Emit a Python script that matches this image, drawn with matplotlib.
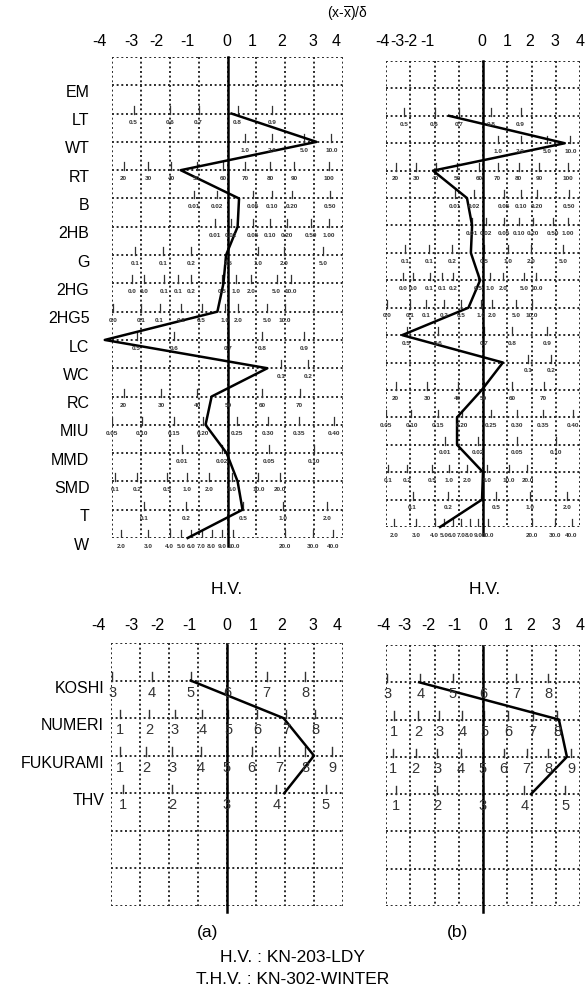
import numpy as np
import matplotlib
matplotlib.use('Agg')
import matplotlib.pyplot as plt
from matplotlib.transforms import blended_transform_factory

plt.rcParams['font.family'] = ['Liberation Sans', 'DejaVu Sans']

# rows of the upper charts
rows_top = ['EM', 'LT', 'WT', 'RT', 'B', '2HB', 'G', '2HG', '2HG5', 'LC',
            'WC', 'RC', 'MIU', 'MMD', 'SMD', 'T', 'W']

# profile values (x - mean)/sd
hv_a = [np.nan, 0.14, 3.08, -1.62, 0.40, 0.35, -0.05, -0.14, -0.35, -4.25,
        1.38, -0.55, -0.76, -0.03, 0.35, 0.52, -1.38]
hv_b = [np.nan, -1.40, 3.37, -2.06, -0.66, -0.45, -0.50, -0.12, -0.60, -3.33,
        0.82, -0.05, -1.07, -1.07, 0.00, -0.04, -1.77]

# scale labels of each row and where they sit on the sd axis
scale_lbl = {
    'EM': [],
    'LT': ['0.5', '0.6', '0.7', '0.8', '0.9'],
    'WT': ['1.0', '2.0', '5.0', '10.0'],
    'RT': ['20', '30', '40', '50', '60', '70', '80', '90', '100'],
    'B': ['0.01', '0.02', '0.05', '0.10', '0.20', '0.50'],
    '2HB': ['0.01', '0.02', '0.05', '0.10', '0.20', '0.50', '1.00'],
    'G': ['0.1', '0.1', '0.2', '0.5', '1.0', '2.0', '5.0'],
    '2HG': ['0.0', '0.0', '0.1', '0.1', '0.2', '0.5', '1.0', '2.0', '5.0', '10.0'],
    '2HG5': ['0.0', '0.1', '0.1', '0.2', '0.5', '1.0', '2.0', '5.0', '10.0'],
    'LC': ['0.5', '0.6', '0.7', '0.8', '0.9'],
    'WC': ['0.1', '0.2'],
    'RC': ['20', '30', '40', '50', '60', '70'],
    'MIU': ['0.05', '0.10', '0.15', '0.20', '0.25', '0.30', '0.35', '0.40'],
    'MMD': ['0.01', '0.02', '0.05', '0.10'],
    'SMD': ['0.1', '0.2', '0.5', '1.0', '2.0', '5.0', '10.0', '20.0'],
    'T': ['0.1', '0.2', '0.5', '1.0', '2.0'],
    'W': ['2.0', '3.0', '4.0', '5.0', '6.0', '7.0', '8.0', '9.0', '10.0',
          '20.0', '30.0', '40.0'],
}
scale_pos = {
    'EM': [],
    'LT': [-3.25, -2.0, -1.0, 0.35, 1.55],
    'WT': [0.6, 1.55, 2.65, 3.6],
    'RT': [-3.6, -2.75, -1.95, -1.07, -0.15, 0.6, 1.47, 2.32, 3.5],
    'B': [-1.17, -0.38, 0.88, 1.55, 2.23, 3.55],
    '2HB': [-0.45, 0.12, 0.88, 1.47, 2.05, 2.9, 3.5],
    'G': [-3.2, -2.23, -1.27, 0.03, 1.05, 1.97, 3.3],
    '2HG': [-3.3, -2.9, -2.2, -1.7, -1.25, -0.2, 0.28, 0.83, 1.7, 2.2],
    '2HG5': [-3.95, -3.0, -2.35, -1.6, -0.9, -0.1, 0.38, 1.38, 2.0],
    'LC': [-3.15, -1.85, 0.03, 1.2, 2.65],
    'WC': [1.85, 2.8],
    'RC': [-3.6, -2.3, -1.05, 0.03, 1.2, 2.5],
    'MIU': [-4.0, -2.95, -1.87, -0.86, 0.33, 1.4, 2.48, 3.7],
    'MMD': [-1.58, -0.2, 1.42, 3.0],
    'SMD': [-3.9, -3.12, -2.1, -1.4, -0.65, 0.17, 1.07, 1.83],
    'T': [-2.9, -1.45, 0.55, 1.92, 3.45],
    'W': [-3.68, -2.75, -2.0, -1.6, -1.25, -0.9, -0.55, -0.2, 0.2, 2.0, 2.95, 3.65],
}

# rows of the lower charts (hand values)
rows_bot = ['KOSHI', 'NUMERI', 'FUKURAMI', 'THV']
thv_a = [-1.25, 1.95, 3.0, 1.97]
thv_b = [-2.63, 3.13, 3.46, 1.98]
bot_lbl = {
    'KOSHI': ['3', '4', '5', '6', '7', '8'],
    'NUMERI': ['1', '2', '3', '4', '5', '6', '7', '8'],
    'FUKURAMI': ['1', '2', '3', '4', '5', '6', '7', '8', '9'],
    'THV': ['1', '2', '3', '4', '5'],
}
bot_pos = {
    'KOSHI': [-3.95, -2.58, -1.25, 0.0, 1.37, 2.7],
    'NUMERI': [-3.68, -2.68, -1.8, -0.85, 0.05, 1.03, 2.05, 3.05],
    'FUKURAMI': [-3.7, -2.78, -1.88, -0.9, 0.0, 0.85, 1.8, 2.7, 3.63],
    'THV': [-3.6, -1.88, 0.0, 1.7, 3.4],
}

# sd tick labels (the printed numbers are not quite on the grid lines)
sd_lbl = ['-4', '-3', '-2', '-1', '0', '1', '2', '3', '4']
sd_pos_top_a = [-4.45, -3.32, -2.45, -1.38, -0.03, 0.85, 1.87, 2.95, 3.75]
sd_pos_top_b = [-4.15, -3.55, -3.0, -2.3, -0.04, 1.0, 1.93, 2.96, 4.0]
sd_pos_bot_a = [-4.45, -3.3, -2.4, -1.3, 0.0, 0.9, 1.9, 2.95, 3.8]
sd_pos_bot_b = [-4.1, -3.25, -2.26, -1.19, 0.0, 1.03, 1.98, 3.0, 4.0]

W, H = 586, 994
fig = plt.figure(figsize=(W / 100, H / 100), dpi=100)

dot = dict(color='#2a2a2a', lw=1.4, ls=(0, (1, 1.4)))


def make_panel(x0, x1, y0, y1, nrows):
    ax = fig.add_axes([x0 / W, 1 - y1 / H, (x1 - x0) / W, (y1 - y0) / H])
    ax.set_xlim(-4, 4)
    ax.set_ylim(nrows, 0)
    ax.axis('off')
    for v in range(-4, 5):
        ax.plot([v, v], [0, nrows], **dot)
    for h in range(0, nrows + 1):
        ax.plot([-4, 4], [h, h], **dot)
    return ax


def sd_labels(ax, pos, ypix):
    tr = blended_transform_factory(ax.transData, fig.transFigure)
    for p, t in zip(pos, sd_lbl):
        ax.text(p, 1 - ypix / H, t, transform=tr, ha='center', va='center',
                fontsize=11.5)


# ---- upper charts ----
top_a = make_panel(112, 343, 57, 538, 17)
top_b = make_panel(386, 580, 61, 527, 17)

for ax in (top_a, top_b):
    for i, name in enumerate(rows_top):
        r = i + 1
        for p, t in zip(scale_pos[name], scale_lbl[name]):
            ax.plot([p, p], [r - 0.28, r], color='#333333', lw=0.9)
            ax.text(p, r + 0.3, t, ha='center', va='center', fontsize=4.6,
                    color='#333333', fontweight='bold')
    ax.plot([0, 0], [0, 17.3], color='black', lw=1.8, clip_on=False)

for i, name in enumerate(rows_top):
    top_a.text(-4.78, i + 1.25, name, ha='right', va='center', fontsize=11.5)

top_a.plot(hv_a, np.arange(1, 18), color='black', lw=1.8, clip_on=False)
top_b.plot(hv_b, np.arange(1, 18), color='black', lw=1.8, clip_on=False)

sd_labels(top_a, sd_pos_top_a, 42)
sd_labels(top_b, sd_pos_top_b, 42)

fig.text(347 / W, 1 - 14 / H, r'(x-$\overline{\mathregular{x}}$)/δ',
         ha='center', va='center', fontsize=10)

fig.text(227 / W, 1 - 589 / H, 'H.V.', ha='center', va='center', fontsize=12.5)
fig.text(485 / W, 1 - 589 / H, 'H.V.', ha='center', va='center', fontsize=12.5)

# ---- lower charts ----
bot_a = make_panel(111, 343, 643, 906, 7)
bot_b = make_panel(386, 580, 645, 906, 7)

for ax in (bot_a, bot_b):
    for i, name in enumerate(rows_bot):
        r = i + 1
        for p, t in zip(bot_pos[name], bot_lbl[name]):
            ax.plot([p, p], [r - 0.22, r], color='#333333', lw=1.0)
            ax.text(p, r + 0.32, t, ha='center', va='center', fontsize=10.5,
                    color='#333333', family=['Liberation Sans Narrow', 'Liberation Sans'])
    ax.plot([0, 0], [0.05, 7.15], color='black', lw=1.8, clip_on=False)

for i, name in enumerate(rows_bot):
    bot_a.text(-4.24, i + 1.2, name, ha='right', va='center', fontsize=11.5)

bot_a.plot(thv_a, np.arange(1, 5), color='black', lw=1.8, clip_on=False)
bot_b.plot(thv_b, np.arange(1, 5), color='black', lw=1.8, clip_on=False)

sd_labels(bot_a, sd_pos_bot_a, 625)
sd_labels(bot_b, sd_pos_bot_b, 625)

fig.text(208 / W, 1 - 933 / H, '(a)', ha='center', va='center', fontsize=12.5)
fig.text(458 / W, 1 - 933 / H, '(b)', ha='center', va='center', fontsize=12.5)
fig.text(293 / W, 1 - 957 / H, 'H.V. : KN-203-LDY', ha='center', va='center',
         fontsize=12.5)
fig.text(293 / W, 1 - 980 / H, 'T.H.V. : KN-302-WINTER', ha='center',
         va='center', fontsize=12.5)

fig.savefig('out.png', dpi=100)
